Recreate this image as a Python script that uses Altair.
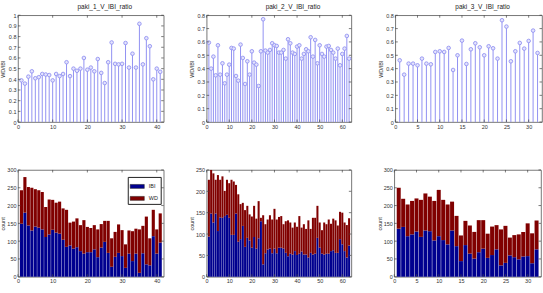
import altair as alt
import pandas as pd

# ---- WD/IBI ratio per recording ----
ratio1 = [0.39, 0.36, 0.425, 0.475, 0.41, 0.42, 0.45, 0.445, 0.44, 0.39,
          0.45, 0.43, 0.45, 0.56, 0.43, 0.50, 0.48, 0.50, 0.60, 0.49,
          0.51, 0.475, 0.59, 0.46, 0.365, 0.56, 0.745, 0.545, 0.54, 0.545,
          0.74, 0.51, 0.64, 0.51, 0.92, 0.54, 0.785, 0.71, 0.40, 0.50, 0.47]
ratio2 = [0.595, 0.40, 0.49, 0.35, 0.575, 0.355, 0.44, 0.29, 0.355, 0.43,
          0.555, 0.55, 0.345, 0.31, 0.58, 0.48, 0.285, 0.455, 0.355, 0.53,
          0.445, 0.43, 0.27, 0.53, 0.77, 0.535, 0.52, 0.54, 0.59, 0.575,
          0.57, 0.52, 0.52, 0.54, 0.475, 0.62, 0.59, 0.52, 0.51, 0.565,
          0.575, 0.475, 0.51, 0.545, 0.53, 0.635, 0.49, 0.615, 0.44, 0.575,
          0.51, 0.49, 0.565, 0.57, 0.54, 0.52, 0.475, 0.55, 0.425, 0.51,
          0.55, 0.645, 0.475]
ratio3 = [0.4625, 0.355, 0.4375, 0.4375, 0.425, 0.475, 0.4375, 0.4325, 0.525, 0.53,
          0.525, 0.555, 0.39, 0.50, 0.61, 0.435, 0.545, 0.59, 0.56, 0.50,
          0.5675, 0.5525, 0.475, 0.7625, 0.715, 0.455, 0.53, 0.5925, 0.55, 0.6075,
          0.685, 0.5175]

# ---- IBI / WD counts per recording ----
ibi1 = [149, 180, 144, 130, 141, 138, 133, 112, 119, 132, 124, 121, 104, 84, 88,
        79, 83, 72, 65, 69, 69, 77, 55, 82, 98, 67, 28, 56, 67, 58, 25, 65, 44,
        65, 11, 66, 35, 32, 114, 65, 96]
wd1 = [94, 100, 108, 120, 105, 105, 105, 84, 98, 84, 84, 90, 88, 104, 64,
       76, 81, 73, 94, 71, 68, 68, 78, 66, 59, 90, 80, 70, 80, 73, 66, 65, 84,
       70, 122, 77, 134, 76, 74, 68, 82]
ibi2 = [94, 148, 127, 148, 107, 139, 138, 142, 145, 138, 98, 98, 148, 82, 88,
        119, 70, 91, 85, 68, 93, 66, 90, 130, 29, 55, 64, 66, 55, 66, 55, 68,
        68, 66, 56, 48, 54, 52, 60, 51, 54, 59, 52, 52, 45, 56, 52, 54, 91, 68,
        54, 52, 54, 54, 60, 62, 56, 56, 88, 76, 60, 45, 73]
wd2 = [133, 102, 115, 79, 131, 88, 97, 59, 82, 81, 129, 125, 67, 111, 82,
       54, 86, 75, 61, 73, 73, 70, 87, 8, 115, 68, 70, 78, 79, 93, 79, 72,
       74, 57, 74, 84, 73, 63, 67, 66, 88, 56, 71, 60, 87, 56, 86, 84, 75, 59,
       55, 75, 69, 80, 64, 74, 76, 64, 64, 74, 67, 76, 64]
ibi3 = [135, 140, 114, 119, 127, 112, 130, 128, 102, 114, 103, 91, 130, 86, 44,
        89, 65, 51, 69, 79, 53, 61, 77, 32, 39, 60, 55, 49, 57, 58, 38, 77]
wd3 = [115, 79, 89, 94, 93, 104, 104, 97, 111, 130, 113, 112, 81, 85, 72,
       68, 79, 75, 90, 80, 68, 80, 68, 101, 104, 50, 62, 70, 69, 92, 84, 81]

series = ["IBI", "WD"]
colors = ["#00008f", "#800000"]
STEM = "#9292f2"
FONT = "Liberation Sans"
TICK = 2.5
YEXT = 10


def axes(xmax, ymax, xticks, yticks, xfield, yfield, ytitle, yfmt):
    x = alt.X(f"{xfield}:Q", scale=alt.Scale(domain=[0, xmax], nice=False, zero=False),
              axis=alt.Axis(values=xticks, format="d", title=None, grid=False,
                            domain=False, ticks=False, labelPadding=2,
                            labelFontSize=5.5, labelColor="#333", labelFont=FONT,
                            labelFlush=False))
    y = alt.Y(f"{yfield}:Q", scale=alt.Scale(domain=[0, ymax], nice=False),
              axis=alt.Axis(values=yticks, format=yfmt, title=ytitle, grid=False,
                            domain=False, ticks=False, labelPadding=2,
                            labelFontSize=5.5, labelColor="#333", labelFont=FONT,
                            titleFontSize=5.5, titleFont=FONT, titleColor="#333",
                            titleFontWeight="normal", titlePadding=2,
                            minExtent=YEXT, maxExtent=YEXT, labelFlush=False))
    return x, y


def inward_ticks(x, y, xfield, yfield, xticks, yticks, w, h):
    xt = pd.DataFrame({xfield: xticks})
    yt = pd.DataFrame({yfield: yticks})
    c = "#444"
    return [
        alt.Chart(xt).mark_rule(color=c, strokeWidth=0.7).encode(x=x, y=alt.value(h), y2=alt.value(h - TICK)),
        alt.Chart(xt).mark_rule(color=c, strokeWidth=0.7).encode(x=x, y=alt.value(0), y2=alt.value(TICK)),
        alt.Chart(yt).mark_rule(color=c, strokeWidth=0.7).encode(y=y, x=alt.value(0), x2=alt.value(TICK)),
        alt.Chart(yt).mark_rule(color=c, strokeWidth=0.7).encode(y=y, x=alt.value(w), x2=alt.value(w - TICK)),
    ]


def stem_panel(vals, xmax, ymax, xticks, yticks, title, w, h):
    df = pd.DataFrame({"i": list(range(1, len(vals) + 1)), "r": vals})
    x, y = axes(xmax, ymax, xticks, yticks, "i", "r", "WD/IBI", ".1~f")
    base = alt.Chart(df)
    stems = base.mark_rule(color=STEM, strokeWidth=1).encode(x=x, y=y, y2=alt.datum(0))
    heads = base.mark_point(shape="circle", filled=True, fill="#e4e4fc", stroke=STEM,
                            size=13, strokeWidth=0.9, opacity=1).encode(x=x, y=y)
    return alt.layer(stems, heads, *inward_ticks(x, y, "i", "r", xticks, yticks, w, h)).properties(
        width=w, height=h,
        title=alt.TitleParams(title, fontSize=6.5, font=FONT, fontWeight="normal",
                              color="#222", offset=3, dx=14))


def bar_panel(ibi, wd, xmax, ymax, xticks, yticks, w, h, legend=False):
    n = len(ibi)
    idx = list(range(1, n + 1))
    df = pd.DataFrame({
        "i": idx + idx,
        "s": [series[0]] * n + [series[1]] * n,
        "v": ibi + wd,
    })
    x, y = axes(xmax, ymax, xticks, yticks, "x0", "v1", "count", "d")
    if legend:
        leg = alt.Legend(title=None, orient="none", legendX=110, legendY=7,
                         fillColor="white", strokeColor="#222", padding=2,
                         labelFontSize=5.5, labelFont=FONT, labelColor="#222",
                         symbolType="M-1,-0.28H1V0.28H-1Z", symbolSize=200,
                         symbolStrokeColor="#222", symbolStrokeWidth=0.5,
                         rowPadding=1, labelOffset=4)
    else:
        leg = None
    color = alt.Color("s:N", scale=alt.Scale(domain=series, range=colors), legend=leg)
    bars = alt.Chart(df).transform_calculate(
        x0="datum.i - 0.45", x1="datum.i + 0.45",
        o="datum.s == 'IBI' ? 0 : 1"
    ).transform_stack(
        stack="v", as_=["v0", "v1"], groupby=["i"], sort=[alt.SortField("o")]
    ).mark_bar(strokeWidth=0).encode(
        x=x, x2=alt.X2("x1:Q"), y=y, y2=alt.Y2("v0:Q"), color=color
    )
    return alt.layer(bars, *inward_ticks(x, y, "x0", "v1", xticks, yticks, w, h)).properties(
        width=w, height=h)


H = 107
p1 = stem_panel(ratio1, 42, 1.0, [0, 10, 20, 30, 40],
                [round(k * 0.1, 1) for k in range(11)], "paki_1_V_IBI_ratio", 146, H)
p2 = stem_panel(ratio2, 64, 0.8, [0, 10, 20, 30, 40, 50, 60],
                [round(k * 0.1, 1) for k in range(9)], "paki_2_V_IBI_ratio", 145, H)
p3 = stem_panel(ratio3, 33, 0.8, [0, 5, 10, 15, 20, 25, 30],
                [round(k * 0.1, 1) for k in range(9)], "paki_3_V_IBI_ratio", 147, H)
p4 = bar_panel(ibi1, wd1, 42, 300, [0, 10, 20, 30, 40], list(range(0, 301, 50)), 146, H, legend=True)
p5 = bar_panel(ibi2, wd2, 64, 250, [0, 10, 20, 30, 40, 50, 60], list(range(0, 251, 50)), 145, H)
p6 = bar_panel(ibi3, wd3, 33, 300, [0, 5, 10, 15, 20, 25, 30], list(range(0, 301, 50)), 147, H)

top = alt.hconcat(p1, p2, p3, spacing=24)
bottom = alt.hconcat(p4, p5, p6, spacing=24)

chart = alt.vconcat(top, bottom, spacing=37).resolve_scale(
    color="independent"
).properties(
    padding={"left": 0, "top": 3, "right": 0, "bottom": 0},
    background="white",
).configure_view(stroke="#555", strokeWidth=0.8)

chart.save("out.html", embed_options={"renderer": "svg", "actions": False})
